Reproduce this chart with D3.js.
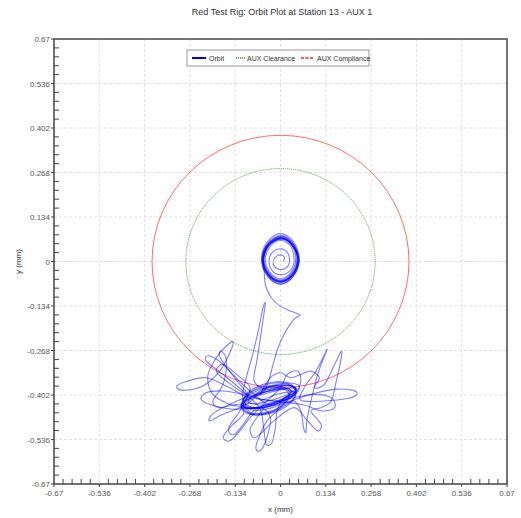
<!DOCTYPE html>
<html>
<head>
<meta charset="utf-8">
<script src="https://cdn.jsdelivr.net/npm/d3@7"></script>
<style>
  body { margin: 0; background: #ffffff; }
  text { font-family: "Liberation Sans", Arial, sans-serif; }
</style>
</head>
<body>
<svg></svg>
<script>
// Chart data
const titleText = "Red Test Rig: Orbit Plot at Station 13 - AUX 1";
const tickValues = [-0.67, -0.536, -0.402, -0.268, -0.134, 0, 0.134, 0.268, 0.402, 0.536, 0.67];
const tickLabels = ["-0.67", "-0.536", "-0.402", "-0.268", "-0.134", "0", "0.134", "0.268", "0.402", "0.536", "0.67"];
const clearanceRadius = 0.28;
const complianceRadius = 0.38;
const legendLabels = ["Orbit", "AUX Clearance", "AUX Compliance"];

// Orbit start: spiral winding out around the centre
const spiralPts = [
  [0.008,0.000],[0.012,0.012],[0.000,0.020],[-0.016,0.012],[-0.022,-0.006],[-0.010,-0.022],[0.012,-0.022],[0.026,-0.004],
  [0.022,0.024],[0.002,0.038],[-0.022,0.030],[-0.034,0.004],[-0.026,-0.026],[-0.002,-0.040],[0.026,-0.030],[0.040,0.000],
  [0.031,0.045],[0.000,0.064],[-0.031,0.045],[-0.045,0.006],[-0.031,-0.033],[0.000,-0.052],[0.031,-0.033],[0.045,0.006],
  [0.033,0.052],[0.000,0.072],[-0.033,0.052],[-0.049,0.008],[-0.033,-0.036],[0.000,-0.056],[0.033,-0.036],[0.049,0.008],
  [0.034,0.051],[0.002,0.072],[-0.034,0.051],[-0.050,0.006],[-0.034,-0.039],[0.000,-0.060],[0.034,-0.039],[0.050,0.006],
  [0.035,0.048],[0.003,0.068],[-0.035,0.048],[-0.051,0.004],[-0.035,-0.040],[0.000,-0.060],[0.035,-0.040],[0.051,0.004],
  [0.036,0.056],[0.002,0.078],[-0.036,0.056],[-0.053,0.008],[-0.036,-0.040],[0.000,-0.062],[0.036,-0.040],[0.053,0.008],
  [0.038,0.060],[0.000,0.084],[-0.038,0.060],[-0.056,0.008],[-0.038,-0.044],[0.000,-0.068],[0.038,-0.044],[0.056,0.008],
  [0.037,0.053],[0.002,0.076],[-0.037,0.053],[-0.055,0.004],[-0.037,-0.045],[0.000,-0.068],[0.037,-0.045],[0.055,0.004],
  [0.035,0.049],[0.004,0.070],[-0.035,0.049],[-0.052,0.004],[-0.035,-0.041],[0.000,-0.062],[0.035,-0.041],[0.052,0.004],
  [0.035,0.050],[0.002,0.070],[-0.035,0.050],[-0.052,0.006],[-0.035,-0.038],[0.000,-0.058],[0.035,-0.038],[0.052,0.006],
  [0.037,0.052],[0.002,0.074],[-0.037,0.052],[-0.054,0.006],[-0.037,-0.040],[0.000,-0.062],[0.037,-0.040],[0.054,0.006],
  [0.034,0.049],[0.002,0.068],[-0.034,0.049],[-0.050,0.006],[-0.048,-0.036]
];

// Orbit drop: leaves the centre, cusp, then falls to the bottom
const tailPts = [
  [-0.046,-0.062],[-0.040,-0.085],[-0.026,-0.110],[-0.004,-0.132],[0.022,-0.146],[0.044,-0.155],[0.058,-0.161],
  [0.044,-0.170],[0.028,-0.190],[0.010,-0.220],[-0.008,-0.262],[-0.022,-0.310],[-0.034,-0.355],[-0.050,-0.392]
];

// Orbit settle: rubbing region near the bottom of the clearance
const settlePts = [
  [-0.080,-0.410],[-0.105,-0.430],[-0.082,-0.440],[-0.026,-0.430],[0.028,-0.405],[0.046,-0.383],[0.016,-0.374],[-0.040,-0.385],
  [-0.078,-0.360],[-0.070,-0.300],[-0.058,-0.220],[-0.048,-0.150],[-0.045,-0.124],[-0.052,-0.140],[-0.066,-0.210],[-0.085,-0.290],[-0.104,-0.360],[-0.112,-0.410],
  [-0.092,-0.436],[-0.050,-0.440],[0.000,-0.424],[0.040,-0.398],[0.040,-0.378],[0.000,-0.372],[-0.050,-0.384],[-0.095,-0.408],
  [-0.150,-0.380],[-0.220,-0.350],[-0.280,-0.362],[-0.307,-0.375],[-0.290,-0.388],[-0.230,-0.375],[-0.180,-0.330],[-0.150,-0.275],[-0.140,-0.243],[-0.155,-0.250],[-0.190,-0.290],[-0.215,-0.345],[-0.200,-0.400],[-0.150,-0.430],
  [-0.116,-0.438],[-0.082,-0.461],[-0.021,-0.455],[0.032,-0.424],[0.046,-0.386],[0.012,-0.363],[-0.049,-0.369],[-0.102,-0.400],
  [-0.120,-0.450],[-0.148,-0.490],[-0.152,-0.515],[-0.135,-0.520],[-0.110,-0.490],[-0.080,-0.450],
  [-0.040,-0.430],[0.010,-0.412],[0.044,-0.390],[0.030,-0.374],[-0.020,-0.380],[-0.075,-0.400],[-0.108,-0.426],[-0.090,-0.442],[-0.040,-0.438],
  [0.030,-0.420],[0.090,-0.400],[0.160,-0.385],[0.215,-0.388],[0.226,-0.400],[0.200,-0.412],[0.130,-0.420],[0.060,-0.418],
  [0.070,-0.380],[0.105,-0.330],[0.130,-0.280],[0.138,-0.264],[0.128,-0.290],[0.110,-0.340],[0.090,-0.420],[0.078,-0.480],[0.075,-0.515],[0.068,-0.500],[0.060,-0.450],[0.040,-0.420],
  [0.014,-0.429],[-0.033,-0.456],[-0.087,-0.461],[-0.116,-0.441],[-0.104,-0.408],[-0.057,-0.380],[-0.003,-0.375],[0.026,-0.395],
  [0.000,-0.440],[-0.040,-0.480],[-0.068,-0.540],[-0.072,-0.566],[-0.058,-0.568],[-0.040,-0.530],[-0.030,-0.470],
  [-0.060,-0.440],[-0.140,-0.445],[-0.210,-0.430],[-0.235,-0.415],[-0.220,-0.395],[-0.170,-0.390],[-0.110,-0.400],
  [-0.097,-0.406],[-0.116,-0.433],[-0.084,-0.443],[-0.021,-0.432],[0.037,-0.404],[0.056,-0.377],[0.024,-0.366],[-0.039,-0.378],
  [-0.060,-0.400],[-0.030,-0.350],[0.000,-0.335],[0.030,-0.350],[0.060,-0.340],[0.090,-0.330],[0.115,-0.350],[0.100,-0.380],
  [0.130,-0.370],[0.160,-0.310],[0.180,-0.270],[0.178,-0.300],[0.165,-0.360],[0.150,-0.420],[0.120,-0.440],
  [0.090,-0.450],[0.120,-0.490],[0.110,-0.510],[0.080,-0.480],[0.040,-0.440],
  [-0.020,-0.480],[-0.060,-0.520],[-0.080,-0.530],[-0.090,-0.505],[-0.070,-0.470],[-0.050,-0.440],
  [-0.086,-0.442],[-0.111,-0.435],[-0.095,-0.415],[-0.046,-0.393],[0.006,-0.382],[0.031,-0.389],[0.015,-0.409],[-0.034,-0.431],
  [-0.090,-0.390],[-0.150,-0.330],[-0.180,-0.285],[-0.175,-0.270],[-0.160,-0.300],[-0.170,-0.370],[-0.200,-0.420],[-0.180,-0.440],[-0.120,-0.430],
  [-0.082,-0.458],[-0.024,-0.452],[0.030,-0.422],[0.044,-0.388],[0.010,-0.366],[-0.047,-0.372],[-0.100,-0.402],[-0.114,-0.436],
  [-0.110,-0.460],[-0.150,-0.500],[-0.170,-0.530],[-0.150,-0.540],[-0.120,-0.510],[-0.090,-0.470],
  [-0.040,-0.420],[0.000,-0.380],[0.020,-0.340],[0.050,-0.330],[0.060,-0.360],[0.040,-0.400],
  [0.000,-0.420],[-0.050,-0.432],[-0.094,-0.424],[-0.080,-0.404],[-0.030,-0.390],[0.020,-0.386],[0.040,-0.396],[0.010,-0.412],
  [-0.010,-0.450],[-0.015,-0.500],[-0.025,-0.545],[-0.042,-0.550],[-0.050,-0.500],[-0.060,-0.445],
  [-0.100,-0.400],[-0.170,-0.340],[-0.220,-0.300],[-0.212,-0.284],[-0.170,-0.310],[-0.120,-0.370],
  [-0.096,-0.404],[-0.110,-0.432],[-0.079,-0.448],[-0.024,-0.440],[0.030,-0.412],[0.048,-0.384],[0.016,-0.372],[-0.044,-0.383],
  [-0.100,-0.430],[-0.170,-0.460],[-0.210,-0.480],[-0.200,-0.458],[-0.150,-0.430],
  [-0.106,-0.410],[-0.057,-0.384],[-0.005,-0.378],[0.024,-0.398],[0.012,-0.428],[-0.035,-0.452],[-0.089,-0.458],[-0.114,-0.438],
  [-0.092,-0.427],[-0.069,-0.428],[-0.021,-0.416],[0.025,-0.398],[0.042,-0.383],[0.019,-0.382],[-0.029,-0.394],[-0.075,-0.412],
  [0.060,-0.430],[0.120,-0.450],[0.160,-0.440],[0.150,-0.410],[0.100,-0.400],[0.040,-0.410],
  [-0.020,-0.420],[-0.100,-0.400],[-0.160,-0.360],[-0.190,-0.330],[-0.170,-0.310],[-0.130,-0.340],[-0.090,-0.380],
  [-0.111,-0.435],[-0.086,-0.442],[-0.034,-0.431],[0.015,-0.409],[0.031,-0.389],[0.006,-0.382],[-0.046,-0.393],[-0.095,-0.415],
  [-0.116,-0.433],[-0.084,-0.443],[-0.021,-0.432],[0.037,-0.404],[0.040,-0.392],[-0.010,-0.400],[-0.060,-0.420]
];

// Layout
const svgWidth = 521, svgHeight = 518;
const margin = { top: 39, right: 14, bottom: 34, left: 54 };
const plotW = svgWidth - margin.left - margin.right;
const plotH = svgHeight - margin.top - margin.bottom;

const svg = d3.select("svg")
    .attr("width", svgWidth)
    .attr("height", svgHeight);

const x = d3.scaleLinear().domain([-0.67, 0.67]).range([margin.left, margin.left + plotW]);
const y = d3.scaleLinear().domain([-0.67, 0.67]).range([margin.top + plotH, margin.top]);

// minor tick positions (5 steps between labels)
const minorStep = 0.134 / 5;
const minorTicks = d3.range(-0.67, 0.6701, minorStep).filter(v => tickValues.every(t => Math.abs(t - v) > 1e-6));

// Title
svg.append("text")
    .attr("x", 282)
    .attr("y", 15)
    .attr("text-anchor", "middle")
    .attr("font-size", 9)
    .attr("fill", "#333")
    .text(titleText);

// Grid lines
const grid = svg.append("g");
grid.selectAll(".gx")
    .data(tickValues.slice(1, -1))
    .enter().append("line")
    .attr("x1", d => x(d)).attr("x2", d => x(d))
    .attr("y1", margin.top).attr("y2", margin.top + plotH)
    .attr("stroke", "#e0e0e0").attr("stroke-dasharray", "3,2");
grid.selectAll(".gy")
    .data(tickValues.slice(1, -1))
    .enter().append("line")
    .attr("y1", d => y(d)).attr("y2", d => y(d))
    .attr("x1", margin.left).attr("x2", margin.left + plotW)
    .attr("stroke", "#e0e0e0").attr("stroke-dasharray", "3,2");

// Clearance circles
svg.append("ellipse")
    .attr("cx", x(0)).attr("cy", y(0))
    .attr("rx", x(complianceRadius) - x(0)).attr("ry", y(0) - y(complianceRadius))
    .attr("fill", "none").attr("stroke", "#ff3030").attr("stroke-opacity", 0.7)
    .attr("stroke-width", 1);
svg.append("ellipse")
    .attr("cx", x(0)).attr("cy", y(0))
    .attr("rx", x(clearanceRadius) - x(0)).attr("ry", y(0) - y(clearanceRadius))
    .attr("fill", "none").attr("stroke", "#2e8b2e").attr("stroke-opacity", 0.7)
    .attr("stroke-width", 1).attr("stroke-dasharray", "1.2,0.8");

// Orbit: Catmull-Rom segments, drawn in chunks so overlaps darken
const orbit = spiralPts.concat(tailPts, settlePts);
const pts = orbit.map(d => [x(d[0]), y(d[1])]);
const n = pts.length;
const chunk = 6;
const orbitG = svg.append("g");
for (let s = 0; s < n - 1; s += chunk) {
    const p = d3.path();
    p.moveTo(pts[s][0], pts[s][1]);
    for (let i = s; i < Math.min(s + chunk, n - 1); i++) {
        const p0 = pts[Math.max(i - 1, 0)], p1 = pts[i], p2 = pts[i + 1], p3 = pts[Math.min(i + 2, n - 1)];
        p.bezierCurveTo(
            p1[0] + (p2[0] - p0[0]) / 6, p1[1] + (p2[1] - p0[1]) / 6,
            p2[0] - (p3[0] - p1[0]) / 6, p2[1] - (p3[1] - p1[1]) / 6,
            p2[0], p2[1]);
    }
    orbitG.append("path")
        .attr("d", p.toString())
        .attr("fill", "none")
        .attr("stroke", "#0000ff")
        .attr("stroke-opacity", 0.5)
        .attr("stroke-width", 1.1);
}

// Frame
svg.append("rect")
    .attr("x", margin.left).attr("y", margin.top)
    .attr("width", plotW).attr("height", plotH)
    .attr("fill", "none").attr("stroke", "#444").attr("stroke-width", 1.5);

// Major ticks (outside) and minor ticks (inside)
const ticks = svg.append("g").attr("stroke", "#444");
ticks.selectAll(".mx").data(tickValues).enter().append("line")
    .attr("x1", d => x(d)).attr("x2", d => x(d))
    .attr("y1", margin.top + plotH).attr("y2", margin.top + plotH + 3);
ticks.selectAll(".my").data(tickValues).enter().append("line")
    .attr("y1", d => y(d)).attr("y2", d => y(d))
    .attr("x1", margin.left - 3).attr("x2", margin.left);
ticks.selectAll(".nx").data(minorTicks).enter().append("line")
    .attr("x1", d => x(d)).attr("x2", d => x(d))
    .attr("y1", margin.top + plotH).attr("y2", margin.top + plotH - 5);
ticks.selectAll(".ny").data(minorTicks).enter().append("line")
    .attr("y1", d => y(d)).attr("y2", d => y(d))
    .attr("x1", margin.left).attr("x2", margin.left + 5);

// Tick labels
svg.append("g").selectAll("text").data(tickValues).enter().append("text")
    .attr("x", d => x(d)).attr("y", margin.top + plotH + 12)
    .attr("text-anchor", "middle").attr("font-size", 8).attr("fill", "#555")
    .text((d, i) => tickLabels[i]);
svg.append("g").selectAll("text").data(tickValues).enter().append("text")
    .attr("x", margin.left - 4).attr("y", d => y(d) + 3)
    .attr("text-anchor", "end").attr("font-size", 8).attr("fill", "#555")
    .text((d, i) => tickLabels[i]);

// Axis titles
svg.append("text")
    .attr("x", x(0)).attr("y", 512)
    .attr("text-anchor", "middle").attr("font-size", 8).attr("fill", "#333")
    .text("x (mm)");
svg.append("text")
    .attr("transform", "rotate(-90)")
    .attr("x", -y(0)).attr("y", 21)
    .attr("text-anchor", "middle").attr("font-size", 8).attr("fill", "#333")
    .text("y (mm)");

// Legend
const legend = svg.append("g");
legend.append("rect")
    .attr("x", 187).attr("y", 50).attr("width", 182).attr("height", 16)
    .attr("fill", "#fff").attr("stroke", "#999");
const legendItems = [
    { x1: 192, x2: 206, tx: 209, color: "#0000ff", dash: null, w: 2 },
    { x1: 236, x2: 245, tx: 247, color: "#2e8b2e", dash: "1,1", w: 1.3 },
    { x1: 301, x2: 314, tx: 317, color: "#ff2020", dash: "3,1.5", w: 1.5 }
];
legendItems.forEach((it, i) => {
    legend.append("line")
        .attr("x1", it.x1).attr("x2", it.x2).attr("y1", 58).attr("y2", 58)
        .attr("stroke", it.color).attr("stroke-width", it.w)
        .attr("stroke-dasharray", it.dash);
    legend.append("text")
        .attr("x", it.tx).attr("y", 60.5)
        .attr("font-size", 7).attr("fill", "#333")
        .text(legendLabels[i]);
});
</script>
</body>
</html>
